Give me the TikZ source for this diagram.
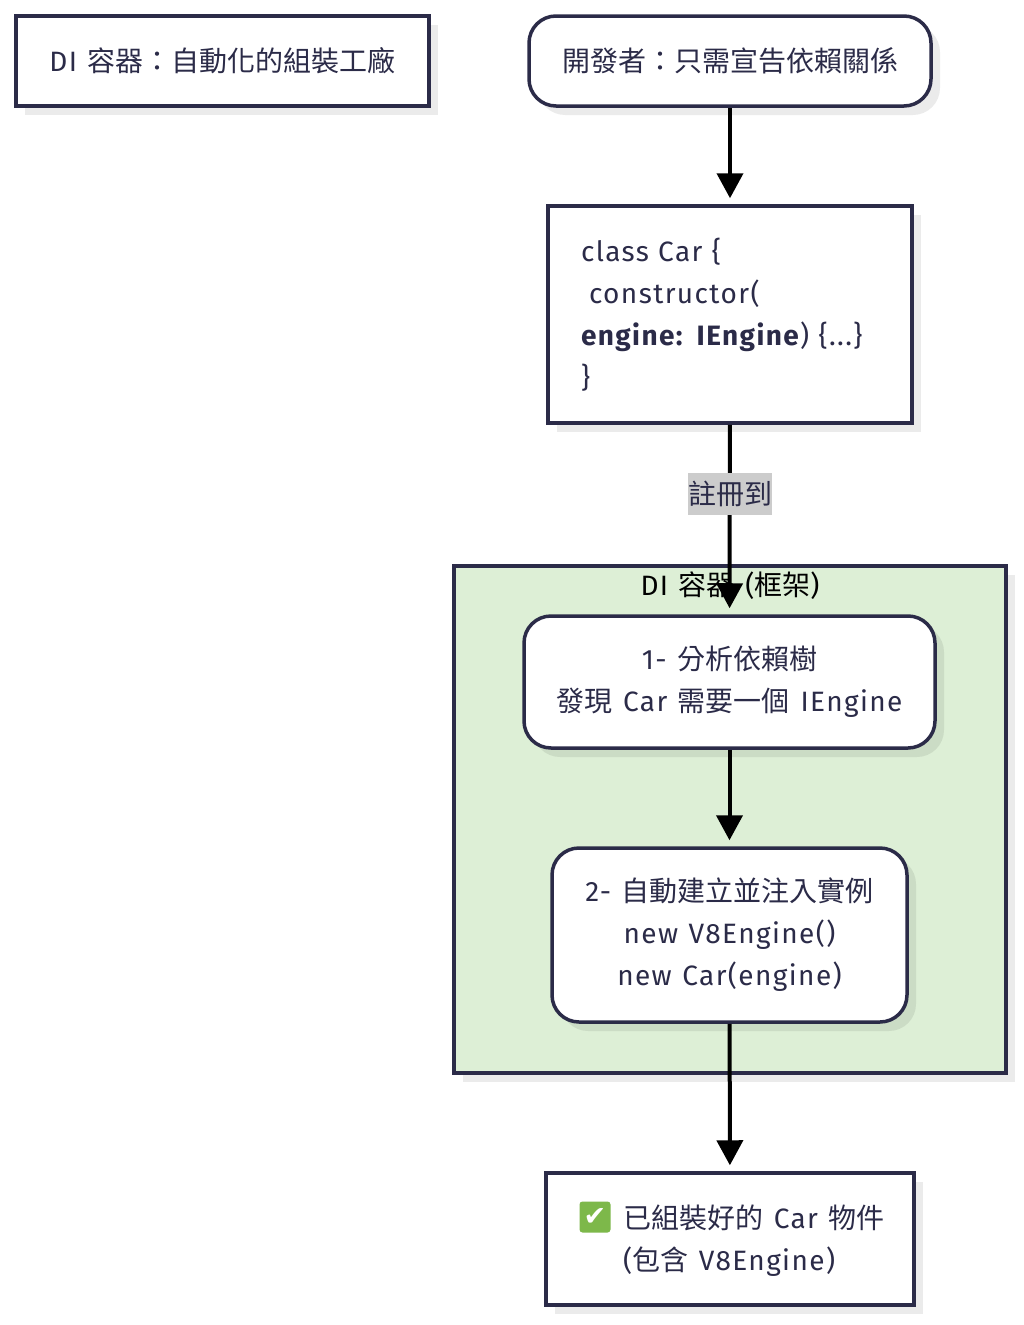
\documentclass[tikz,border=0pt]{standalone}
\usepackage{fontspec}
\usepackage{tikz}
\usetikzlibrary{arrows.meta,shadows}
\setmainfont{Fira Sans}[LetterSpace=5,WordSpace=1.2]
\newfontfamily\cjkfont{Noto Sans CJK TC}
\newfontfamily\symfont{DejaVu Sans}
\newcommand{\zh}[1]{{\cjkfont #1}}
\definecolor{inkblue}{HTML}{2B2B48}
\definecolor{groupgreen}{HTML}{DDEFD6}
\definecolor{labelgray}{HTML}{CCCCCC}
\definecolor{checkgreen}{HTML}{7DB84A}
\tikzset{
  boxnode/.style={draw=inkblue, line width=3.5pt, fill=white, text=inkblue, inner sep=0pt, align=center,
    font=\fontsize{28}{42}\selectfont, drop shadow={shadow xshift=9pt, shadow yshift=-9pt, fill=black, opacity=0.08}},
  roundnode/.style={boxnode, rounded corners=27pt},
  edgeline/.style={draw=black, line width=4pt, -{Triangle[width=26pt,length=25pt]}}
}

\begin{document}
\begin{tikzpicture}[x=1pt,y=-1pt,shorten >=6pt]
    \useasboundingbox (0,0) rectangle (1024,1325);
    % Nodes
    \node[boxnode, minimum width=413pt, minimum height=90pt] (title) at (222.5,61) {DI \zh{容器：自動化的組裝工廠}};
    \node[roundnode, minimum width=402pt, minimum height=90pt] (dev) at (730,61) {\zh{開發者：只需宣告依賴關係}};
    \node[boxnode, minimum width=364pt, minimum height=217pt, text width=298pt, align=left] (code) at (730,314.5) {class Car \{\\\hspace{8pt}constructor(\\\textbf{engine: IEngine}) \{...\}\\\}};

    \node[boxnode, fill=groupgreen, minimum width=552pt, minimum height=507pt] (group) at (730,819.5) {};
    \node[text=black, font=\fontsize{28}{42}\selectfont] (grouptitle) at (730,586) {DI \zh{容器} (\zh{框架})};
    \node[roundnode, minimum width=411pt, minimum height=132pt] (analyse) at (729.5,682) {1- \zh{分析依賴樹}\\\zh{發現} Car \zh{需要一個} IEngine};
    \node[roundnode, minimum width=355pt, minimum height=174pt] (inject) at (729.5,935) {2- \zh{自動建立並注入實例}\\new V8Engine()\\new Car(engine)};
    \node[boxnode, minimum width=368pt, minimum height=132pt] (result) at (730,1239) {};
    \node[anchor=west, text=inkblue, align=left, font=\fontsize{28}{42}\selectfont, inner sep=0pt] (resulttext) at (623,1241) {\zh{已組裝好的} Car \zh{物件}\\(\zh{包含} V8Engine)};
    \node[fill=checkgreen, rounded corners=3pt, text=white, inner sep=0pt, minimum size=31pt, font=\symfont\fontsize{27}{27}\selectfont] (check) at (595,1217) {✔};

    % Edges
    \draw[edgeline] (dev) -- (code);
    \draw[edgeline] (code) -- (analyse);
    \draw[edgeline] (analyse) -- (inject);
    \draw[edgeline] (inject) -- (result);

    % Edge label
    \node[fill=labelgray, text=inkblue, minimum width=84pt, minimum height=42pt, inner sep=0pt, font=\fontsize{28}{42}\selectfont] (register) at (730,494) {\zh{註冊到}};
\end{tikzpicture}
\end{document}
